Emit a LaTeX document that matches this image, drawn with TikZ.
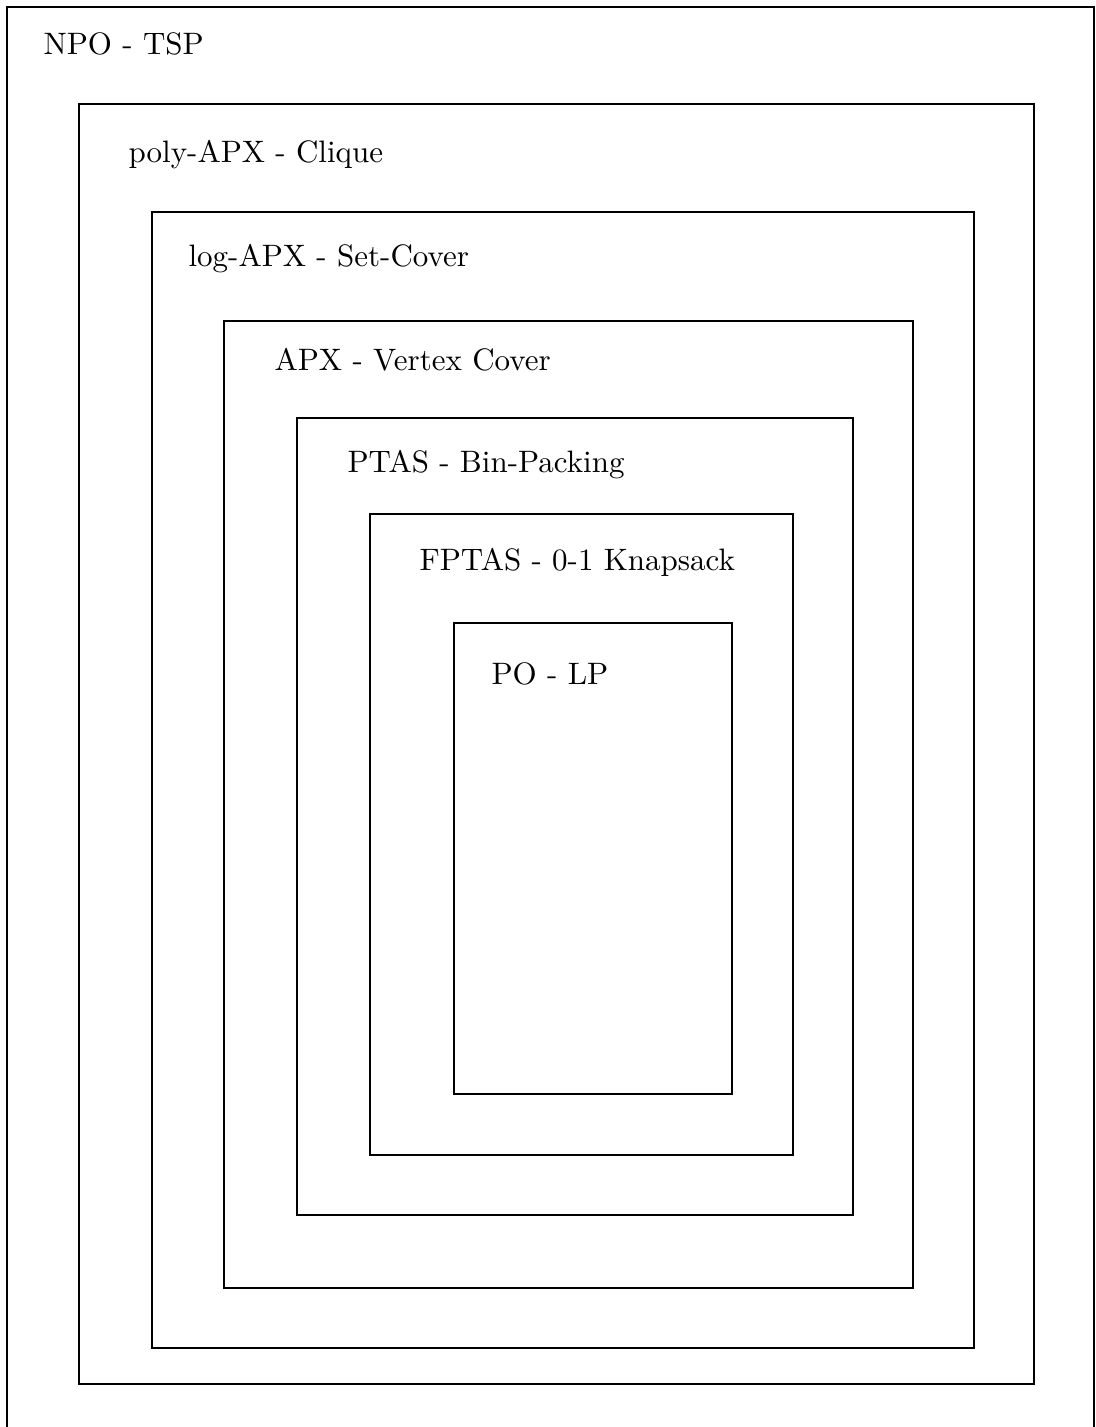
\documentclass[tikz,border=0pt]{standalone}
\begin{document}
\begin{tikzpicture}[x=0.3226pt,y=-0.3226pt,
  box/.style={draw=black,line width=0.4pt},
  lbl/.style={anchor=base west,inner sep=0pt,font=\fontsize{10}{12}\selectfont}]
\useasboundingbox (0,0) rectangle (1095,1427);
\clip (0,0) rectangle (1095,1427);
\draw[box] (7,7) rectangle (1094,1460);
\draw[box] (79,104) rectangle (1034,1384);
\draw[box] (152,212) rectangle (974,1348);
\draw[box] (224,321) rectangle (913,1288);
\draw[box] (297,418) rectangle (853,1215);
\draw[box] (370,514) rectangle (793,1155);
\draw[box] (454,623) rectangle (732,1094);
\node[lbl] (npo) at (43,55) {NPO - TSP};
\node[lbl] (poly) at (128,163) {poly-APX - Clique};
\node[lbl] (log) at (188,267) {log-APX - Set-Cover};
\node[lbl] (apx) at (274,371) {APX - Vertex Cover};
\node[lbl] (ptas) at (347,472) {PTAS - Bin-Packing};
\node[lbl] (fptas) at (419,570) {FPTAS - 0-1 Knapsack};
\node[lbl] (po) at (491,684) {PO - LP};
\end{tikzpicture}
\end{document}
